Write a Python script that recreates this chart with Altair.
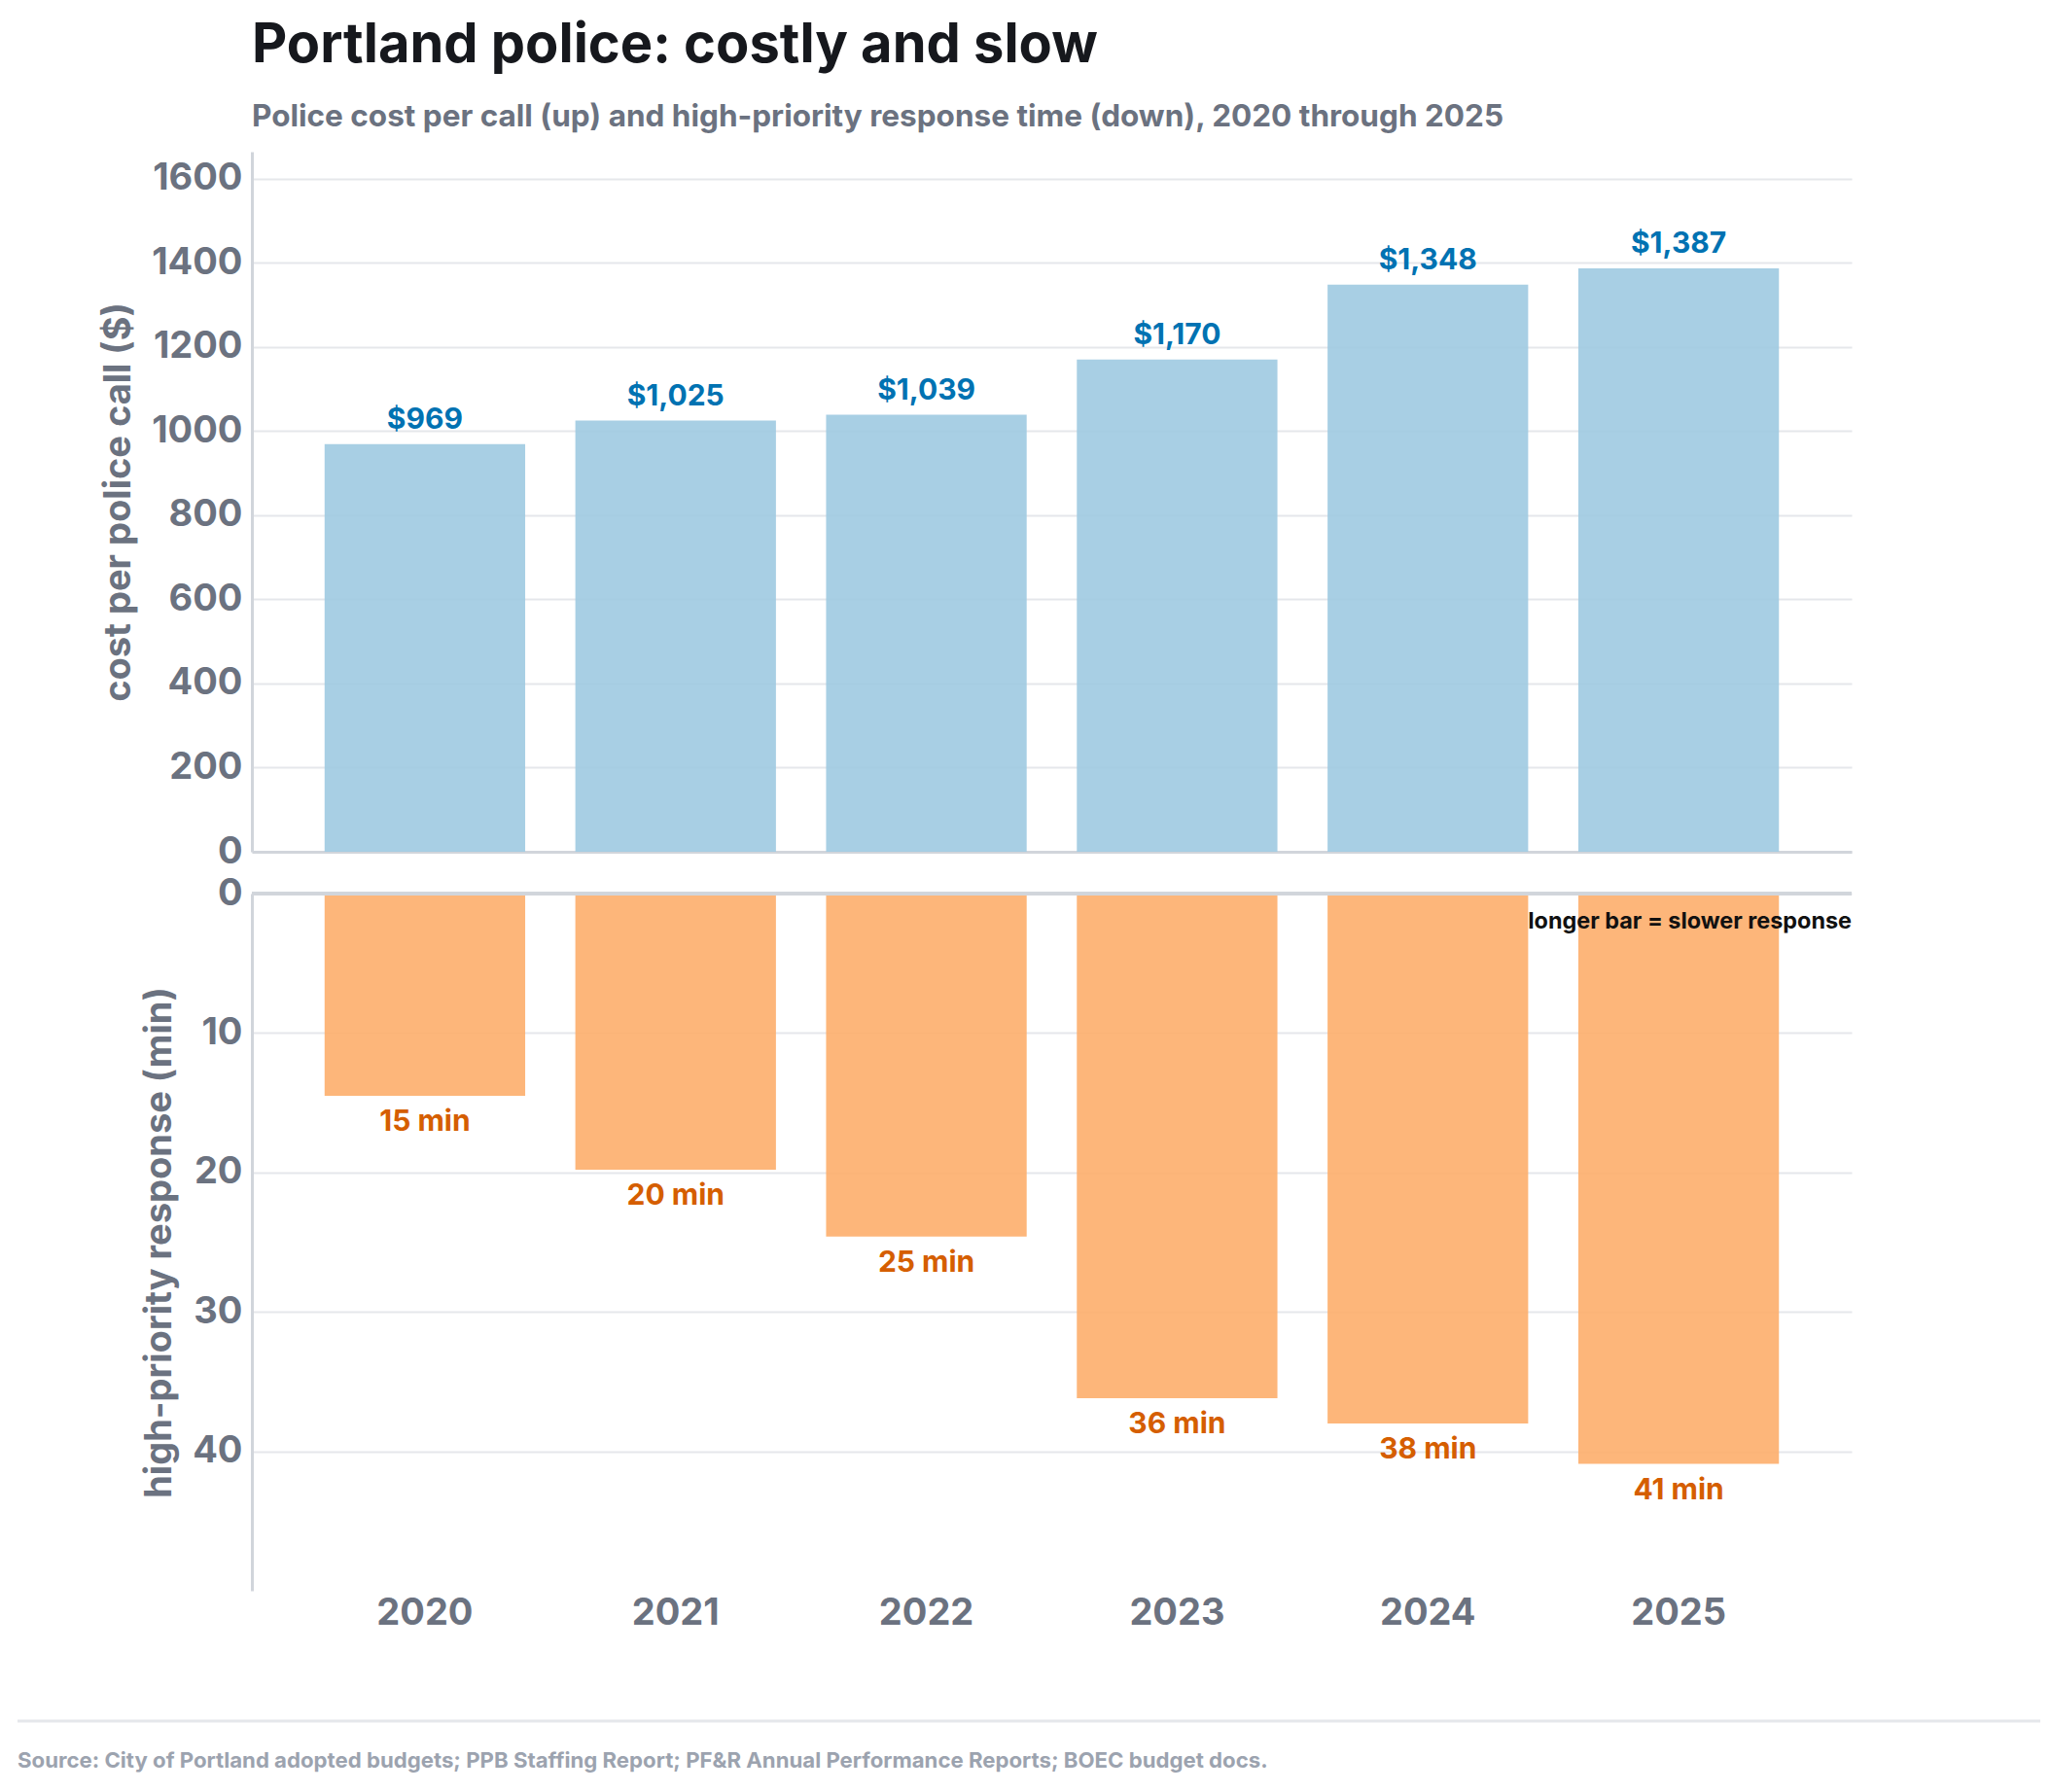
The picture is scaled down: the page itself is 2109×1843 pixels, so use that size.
import altair as alt
import pandas as pd

years = ["2020", "2021", "2022", "2023", "2024", "2025"]
cost_per_call = [969, 1025, 1039, 1170, 1348, 1387]
response_min = [14.5, 19.8, 24.6, 36.2, 38.0, 40.9]
cost_ticks = [0, 200, 400, 600, 800, 1000, 1200, 1400, 1600]
resp_ticks = [0, 10, 20, 30, 40]

title_text = "Portland police: costly and slow"
subtitle_text = "Police cost per call (up) and high-priority response time (down), 2020 through 2025"
note_text = "longer bar = slower response"
source_text = ("Source: City of Portland adopted budgets; PPB Staffing Report; "
               "PF&R Annual Performance Reports; BOEC budget docs.")

df = pd.DataFrame({"year": years, "cost": cost_per_call, "resp": response_min})

FONT = "Inter"
W = 1645
GRAY = "#6b7280"
x_scale = alt.Scale(paddingInner=0.2, paddingOuter=0.29)

# ---------- top: cost per call ----------
top_base = alt.Chart(df)
top_bars = top_base.mark_bar(color="#9ecae1", opacity=0.9).encode(
    x=alt.X("year:N", scale=x_scale,
            axis=alt.Axis(labels=False, ticks=False, title=None, domain=True, grid=False)),
    y=alt.Y("cost:Q", scale=alt.Scale(domain=[0, 1664.4], nice=False),
            axis=alt.Axis(values=cost_ticks, format="d", title="cost per police call ($)")),
)
top_text = top_base.mark_text(
    baseline="alphabetic", dy=-16, fontSize=30, fontWeight="bold",
    color="#0072B2", font=FONT
).encode(
    x="year:N", y="cost:Q", text=alt.Text("cost:Q", format="$,.0f")
)
top = alt.layer(top_bars, top_text).properties(
    width=W, height=720,
    title=alt.TitleParams(
        text=title_text, subtitle=subtitle_text, anchor="start", frame="group",
        font=FONT, fontSize=56, fontWeight="bold", color="#16181d",
        subtitleFont=FONT, subtitleFontSize=31.5, subtitleFontWeight="bold",
        subtitleColor=GRAY, subtitlePadding=29, offset=19,
    ),
)

# ---------- bottom: response time ----------
bot_base = alt.Chart(df)
bot_bars = bot_base.mark_bar(color="#fdae6b", opacity=0.9).encode(
    x=alt.X("year:N", scale=x_scale,
            axis=alt.Axis(labels=True, ticks=False, title=None, domain=False,
                          grid=False, labelAngle=0, labelPadding=4)),
    y=alt.Y("resp:Q", scale=alt.Scale(domain=[0, 50], nice=False, reverse=True),
            axis=alt.Axis(values=resp_ticks, format="d", title="high-priority response (min)")),
)
bot_text = bot_base.transform_calculate(
    label="format(datum.resp, '.0f') + ' min'"
).mark_text(
    baseline="top", dy=12, fontSize=30, fontWeight="bold",
    color="#D55E00", font=FONT
).encode(x="year:N", y="resp:Q", text="label:N")
zero_rule = bot_base.mark_rule(color="#d1d5db", strokeWidth=3).encode(y=alt.datum(0))
note = alt.Chart(pd.DataFrame({"t": [note_text]})).mark_text(
    align="right", baseline="middle", fontSize=23.4, fontWeight="bold",
    color="#111111", font=FONT
).encode(x=alt.value(W), y=alt.value(29), text="t:N")
bottom = alt.layer(bot_bars, zero_rule, bot_text, note).properties(width=W, height=717)

# ---------- footer ----------
footer_df = pd.DataFrame({"t": [source_text]})
footer_rule = alt.Chart(footer_df).mark_rule(color="#e5e7eb", strokeWidth=3).encode(
    x=alt.value(-241), x2=alt.value(1839), y=alt.value(87)
)
footer_text = alt.Chart(footer_df).mark_text(
    align="left", baseline="middle", fontSize=22.2, fontWeight="bold",
    color="#9ca3af", font=FONT
).encode(x=alt.value(-241), y=alt.value(128), text="t:N")
footer = alt.layer(footer_rule, footer_text).properties(width=W, height=145)

chart = alt.vconcat(top, bottom, footer, spacing=5).properties(
    padding={"left": 8, "top": 10, "right": 0, "bottom": 0}
).configure_view(strokeWidth=0).configure_axis(
    labelFont=FONT, labelFontSize=38, labelFontWeight="bold", labelColor=GRAY,
    titleFont=FONT, titleFontSize=38, titleFontWeight="bold", titleColor=GRAY,
    titlePadding=14, labelPadding=10,
    gridColor="#e5e7eb", gridWidth=2, domainColor="#d1d5db", domainWidth=3,
    ticks=False,
).configure_concat(spacing=5)

chart.save("out.html", embed_options={"renderer": "svg", "actions": False})
